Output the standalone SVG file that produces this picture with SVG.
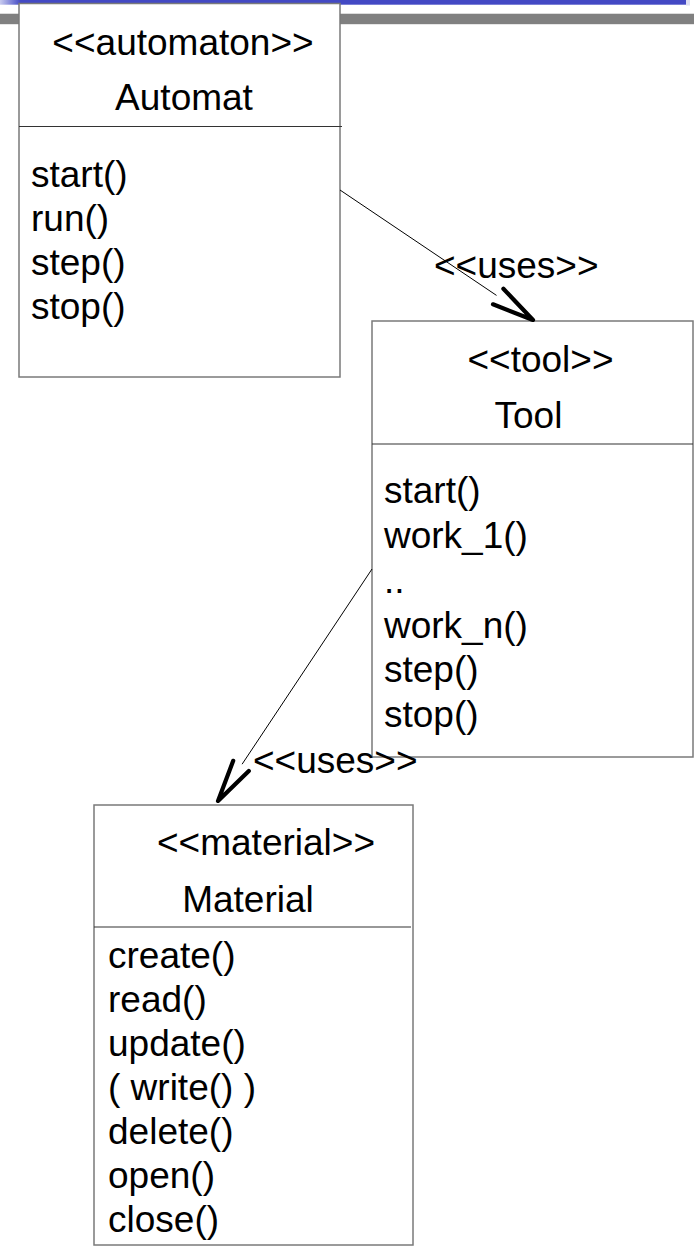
<svg xmlns="http://www.w3.org/2000/svg" width="694" height="1248" viewBox="0 0 694 1248">
  <style>
    text { font-family: "Liberation Sans", Arial, sans-serif; font-size: 37px; fill: #000; }
    .mid { text-anchor: middle; }
    .box { fill: #fff; stroke: #7a7a7a; stroke-width: 1.5; }
    .div { stroke: #333; stroke-width: 1.2; }
    .edge { stroke: #000; stroke-width: 1; fill: none; }
    .head { stroke: #000; stroke-width: 4.2; stroke-linecap: round; stroke-linejoin: round; fill: none; }
  </style>
  <defs>
    <linearGradient id="bluebar" x1="0" y1="0" x2="1" y2="0">
      <stop offset="0" stop-color="#c8cbef"/>
      <stop offset="0.03" stop-color="#4349c4"/>
      <stop offset="1" stop-color="#4349c4"/>
    </linearGradient>
  </defs>

  <!-- page header bars -->
  <g id="header">
    <rect x="0" y="0" width="694" height="1248" fill="#fff"/>
    <rect x="686" y="0" width="4" height="5.5" fill="#dfe0f2"/>
    <rect x="0" y="0" width="686" height="4.7" fill="url(#bluebar)"/>
    <rect x="0" y="13" width="694" height="1" fill="#dcdcdc"/>
    <rect x="0" y="14" width="694" height="10" fill="#808080"/>
    <rect x="0" y="24" width="694" height="1" fill="#e6e6e6"/>
  </g>

  <!-- class: Automat -->
  <g id="automat">
    <rect class="box" x="19" y="3.5" width="321" height="373.5"/>
    <line class="div" x1="19" y1="126.5" x2="342" y2="126.5"/>
    <text class="mid" x="183" y="55">&lt;&lt;automaton&gt;&gt;</text>
    <text class="mid" x="184" y="110">Automat</text>
    <text x="31" y="187">start()</text>
    <text x="31" y="231">run()</text>
    <text x="31" y="275">step()</text>
    <text x="31" y="319">stop()</text>
  </g>

  <!-- class: Tool -->
  <g id="tool">
    <rect class="box" x="372" y="321" width="321" height="436"/>
    <line class="div" x1="372" y1="444" x2="693" y2="444"/>
    <text class="mid" x="540.5" y="372">&lt;&lt;tool&gt;&gt;</text>
    <text class="mid" x="528.5" y="428">Tool</text>
    <text x="384" y="503">start()</text>
    <text x="384" y="548">work_1()</text>
    <text x="384" y="593">..</text>
    <text x="384" y="638">work_n()</text>
    <text x="384" y="682">step()</text>
    <text x="384" y="727">stop()</text>
  </g>

  <!-- class: Material -->
  <g id="material">
    <rect class="box" x="94" y="805" width="319" height="440"/>
    <line class="div" x1="94" y1="927" x2="411" y2="927"/>
    <text class="mid" x="266" y="855">&lt;&lt;material&gt;&gt;</text>
    <text class="mid" x="248" y="912">Material</text>
    <text x="108" y="968">create()</text>
    <text x="108" y="1012">read()</text>
    <text x="108" y="1056">update()</text>
    <text x="108" y="1100">( write() )</text>
    <text x="108" y="1144">delete()</text>
    <text x="108" y="1188">open()</text>
    <text x="108" y="1232">close()</text>
  </g>

  <!-- dependencies -->
  <g id="connectors">
    <line class="edge" x1="340" y1="190" x2="496.5" y2="295.4"/>
    <polyline class="head" points="503.4,288.8 533,320 493,304.3"/>
    <text x="434" y="278">&lt;&lt;uses&gt;&gt;</text>

    <line class="edge" x1="372" y1="569" x2="242.1" y2="764.2"/>
    <polyline class="head" points="233.2,760.8 218,801 248.8,771"/>
    <text x="253" y="773">&lt;&lt;uses&gt;&gt;</text>
  </g>
</svg>
